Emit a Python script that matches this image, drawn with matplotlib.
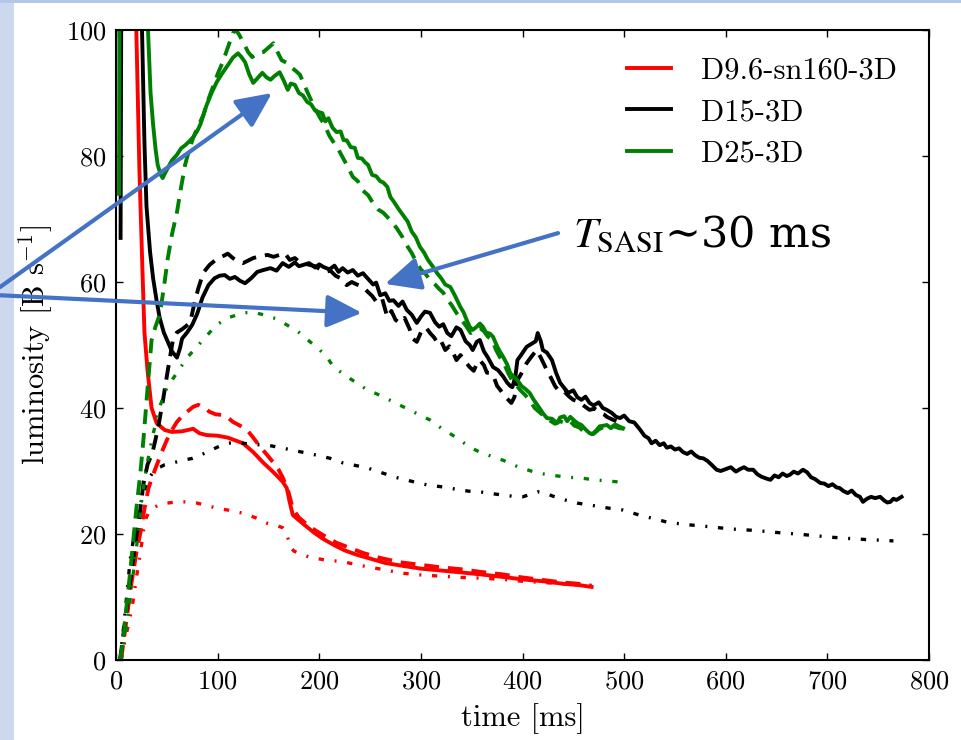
import numpy as np
import matplotlib
matplotlib.use("Agg")
import matplotlib.pyplot as plt
from matplotlib.patches import Rectangle

plt.rcParams["font.family"] = "serif"
plt.rcParams["font.serif"] = ["cmr10"]
plt.rcParams["mathtext.fontset"] = "cm"
plt.rcParams["axes.formatter.use_mathtext"] = True
plt.rcParams["axes.unicode_minus"] = False

# luminosity curves, (time [ms], luminosity [B/s])
d96_solid = [(5, 130), (9, 220), (13, 200), (17, 130), (20, 100), (23, 78), (26, 62), (28, 52),
             (31, 46), (35, 40), (40, 37.6), (48, 36.5), (55, 36.2), (65, 36.3), (76, 36.7),
             (82, 36.0), (89, 35.7), (100, 35.6), (110, 35.3), (125, 34.4), (135, 33.0),
             (145, 31.3), (155, 29.8), (164, 28.3), (168, 27.3), (171, 25.0), (174, 23.0),
             (185, 21.5), (195, 20.2), (204, 19.2), (215, 18.2), (225, 17.4), (237, 16.7),
             (250, 16.1), (265, 15.4), (280, 15.0), (300, 14.5), (320, 14.2), (340, 13.9),
             (358, 13.6), (380, 13.2), (400, 12.8), (420, 12.5), (440, 12.1), (455, 11.9), (468, 11.6)]
d96_dashed = [(5, 0), (10, 6), (15, 12), (20, 17), (24, 20.2), (28, 24), (32, 27.3), (36, 29.2),
              (40, 30.9), (45, 33), (50, 34.9), (55, 36.5), (60, 37.8), (65, 38.7), (70, 39.4),
              (76, 40.2), (81, 40.5), (87, 40.0), (92, 39.4), (98, 39.0), (104, 38.9), (110, 38.5),
              (115, 37.8), (122, 37.2), (129, 36.5), (135, 35.3), (142, 33.8), (149, 32.5),
              (155, 31.3), (160, 30.2), (164, 29.0), (167, 27.8), (170, 26.5), (174, 24.0),
              (180, 22.6), (191, 21.1), (204, 19.8), (217, 18.6), (230, 17.8), (243, 17.0),
              (260, 16.2), (280, 15.5), (300, 15.1), (320, 14.7), (340, 14.4), (358, 14.0),
              (380, 13.6), (400, 13.1), (420, 12.7), (440, 12.3), (455, 12.1), (468, 11.8)]
d96_dashdot = [(5, 0), (10, 4), (16, 8.4), (20, 13), (24, 17), (27, 20.5), (30, 22.7), (33, 23.6),
               (36, 24.1), (42, 24.6), (50, 24.9), (60, 25.1), (70, 25.1), (80, 24.9), (90, 24.5),
               (99, 24.1), (110, 23.8), (125, 23.3), (137, 22.6), (149, 21.7), (157, 21.4),
               (164, 21.0), (168, 20.2), (171, 18.0), (175, 17.3), (182, 16.8), (191, 16.3),
               (205, 15.9), (223, 15.6), (247, 14.8), (265, 14.3), (280, 13.8), (300, 13.5),
               (320, 13.3), (340, 13.1), (358, 13.0), (380, 12.8), (400, 12.5), (420, 12.3),
               (440, 12.1), (455, 11.9), (468, 11.7)]

d15_solid = [(4.5, 67), (6, 150), (9, 260), (13, 300), (18, 220), (22, 140), (25.6, 100), (28, 82),
             (30, 72), (33.5, 64.8), (36.5, 60.6), (40, 57), (43, 54.3), (47, 52), (51, 50.5),
             (55, 49), (60, 48), (63, 49.5), (65, 51), (70, 52), (75, 53.2), (80, 55), (85, 57.5),
             (91, 59.5), (97, 60.6), (102, 61), (107, 61.1), (112, 60.5), (117, 60.8), (122, 60.2),
             (127, 59.8), (133, 60.6), (139, 61.6), (145, 61.9), (152, 62.2), (158, 61.8),
             (164, 63), (170, 62.4), (176, 63.1), (180, 62.5), (184, 62.7), (190, 63.0),
             (196, 62.3), (200, 62.8), (204, 62.4), (210, 62.0), (215, 62.6), (219, 61.6),
             (223, 62.2), (228, 61.5), (233, 61.9), (238, 61.0), (243, 61.4), (248, 60.5),
             (253, 59.6), (256, 59.9), (260, 57.9), (265, 58.2), (269, 57.0), (273, 57.1),
             (278, 56.2), (282, 56.9), (286, 55.6), (291, 54.8), (296, 53.5), (300, 54.5),
             (304, 55.3), (309, 55.1), (314, 53.6), (318, 52.9), (322, 53.3), (326, 51.9),
             (330, 51.4), (335, 52.8), (339, 52.4), (344, 50.6), (348, 50.0), (351, 49.2),
             (355, 50.5), (358, 50.8), (362, 49.0), (366, 48.0), (371, 46.5), (376, 46.0),
             (381, 45.0), (385, 44.0), (388, 43.5), (390, 43.3), (393, 45.0), (395, 47.6),
             (399, 48.5), (404, 49.7), (409, 50.2), (413, 50.6), (415, 51.9), (418, 50.6),
             (420, 49.2), (424, 48.8), (429, 47.6), (433, 45.6), (437, 44.0), (441, 43.2),
             (445, 42.4), (450, 42.8), (454, 41.7), (458, 41.3), (462, 41.8), (466, 40.8),
             (470, 40.4), (475, 40.9), (479, 40.0), (483, 39.7), (488, 39.2), (492, 38.6),
             (496, 38.4), (500, 38.8), (505, 37.9), (510, 37.7), (516, 36.5), (520, 35.6),
             (524, 35.2), (527, 34.4), (531, 34.8), (535, 34.1), (539, 34.4), (542, 33.7),
             (546, 33.9), (550, 33.4), (554, 33.6), (558, 33.0), (562, 32.7), (566, 33.1),
             (570, 32.5), (574, 32.1), (578, 32.0), (582, 31.6), (586, 31.0), (591, 30.2),
             (595, 30.0), (600, 30.3), (605, 30.6), (610, 29.9), (614, 30.3), (618, 30.6),
             (622, 30.2), (627, 30.2), (631, 29.5), (635, 29.1), (640, 28.8), (644, 28.6),
             (648, 29.3), (652, 29.0), (656, 29.6), (660, 29.2), (663, 29.4), (667, 29.9),
             (671, 29.6), (676, 30.2), (680, 29.8), (684, 29.0), (688, 28.7), (693, 28.1),
             (697, 28.0), (701, 27.6), (705, 27.9), (709, 27.4), (712, 27.3), (716, 26.8),
             (720, 26.5), (724, 26.9), (728, 26.2), (732, 25.9), (735, 25.1), (739, 25.6),
             (743, 25.9), (747, 25.7), (752, 25.9), (756, 25.3), (759, 25.0), (762, 25.1),
             (765, 25.6), (768, 25.4), (771, 25.7), (773, 25.9)]
d15_dashed = [(4, 0), (8, 5), (12, 10), (16, 15), (20, 19.5), (24, 24), (27, 28), (31, 31),
              (36, 33), (41, 36.5), (46, 41), (51, 46), (56, 50.8), (60, 52), (65, 52.5),
              (69, 53), (73, 53.6), (77, 56.5), (81, 59), (86, 61.5), (92, 62.7), (98, 63.5),
              (104, 64), (110, 64.5), (115, 63.8), (120, 63.3), (125, 63), (130, 63.4),
              (135, 63.8), (142, 64.1), (149, 64.3), (155, 64.0), (161, 64.3), (166, 64.6),
              (171, 63.5), (176, 63.8), (181, 63.1), (186, 62.9), (191, 62.7), (196, 62.5),
              (201, 62.0), (206, 61.6), (211, 61.8), (216, 61.0), (221, 60.6), (227, 59.5),
              (232, 60.0), (237, 59.6), (243, 59.2), (248, 58.4), (252, 57.8), (257, 56.7),
              (262, 57.3), (267, 54.4), (271, 55.4), (275, 54.0), (279, 53.5), (284, 54.3),
              (289, 52.5), (292, 51.0), (296, 50.5), (300, 52.0), (305, 52.8), (309, 51.9),
              (313, 51.2), (317, 50.2), (320, 50.6), (324, 49.2), (328, 49.8), (332, 48.7),
              (335, 47.6), (339, 48.4), (344, 47.3), (348, 46.5), (352, 45.9), (355, 47.0),
              (358, 47.6), (362, 46.8), (365, 45.6), (368, 45.6), (372, 44.8), (375, 43.5),
              (378, 42.9), (382, 42.0), (386, 41.3), (389, 40.8), (392, 41.7), (395, 44.4),
              (399, 45.5), (404, 47.1), (409, 48.2), (414, 49.2), (418, 48.0), (421, 47.0),
              (424, 46.0), (428, 44.8), (432, 43.5), (437, 42.4), (441, 42.6), (446, 41.8),
              (450, 41.3), (455, 41.0), (460, 40.4), (466, 39.7), (471, 39.9), (476, 39.3),
              (480, 39.0), (483, 38.6), (488, 38.2), (494, 37.8)]
d15_dashdot = [(4, 0), (8, 6), (11, 11), (14, 16), (18, 20), (22, 23.5), (27, 26.5), (31, 28.5),
               (36, 29.7), (42, 30.5), (48, 31), (56, 31.3), (66, 31.7), (75, 32.0), (83, 32.5),
               (92, 33.2), (100, 33.8), (109, 34.4), (117, 34.5), (125, 34.4), (137, 34.2),
               (149, 34.1), (162, 33.7), (174, 33.3), (186, 32.9), (198, 32.5), (211, 32.0),
               (223, 31.3), (235, 30.9), (247, 30.5), (260, 29.8), (275, 29.0), (290, 28.4),
               (306, 27.8), (320, 27.5), (335, 27.1), (347, 26.8), (358, 26.7), (370, 26.4),
               (380, 26.2), (390, 26.0), (400, 25.9), (408, 26.3), (415, 26.7), (422, 26.5),
               (430, 26.0), (442, 25.4), (454, 24.9), (470, 24.5), (485, 24.1), (499, 23.8),
               (515, 23.0), (530, 22.4), (542, 21.9), (560, 21.5), (575, 21.3), (587, 21.1),
               (605, 20.8), (625, 20.6), (640, 20.4), (653, 20.2), (670, 20.0), (690, 19.7),
               (703, 19.5), (720, 19.3), (740, 19.1), (755, 19.0), (765, 18.9)]

d25_solid = [(3, 74), (4, 150), (7, 260), (12, 300), (18, 260), (24, 180), (28, 130), (31.5, 100),
             (34, 90), (36.5, 85), (39, 81), (41, 78.6), (44, 77), (46, 76.5), (48, 77.2), (51, 78.1),
             (55, 79.3), (60, 80.2), (64, 81.2), (68, 81.7), (72, 82.3), (76, 83), (80, 84), (83, 85),
             (86, 86.5), (89, 88), (94, 90), (99, 91.7), (104, 93), (110, 94.4), (115, 95.6),
             (120, 96.3), (123, 95.8), (127, 94.9), (131, 93), (135, 91.6), (139, 92.3), (144, 93.2),
             (148, 92.5), (152, 92.1), (156, 92.7), (161, 93.3), (165, 92), (169, 90.5), (172, 91.5),
             (176, 91.3), (180, 90), (184, 89.6), (188, 88.6), (192, 88.2), (196, 87.2), (199, 87),
             (203, 86.8), (206, 85.5), (209, 86.0), (213, 84.5), (217, 83.8), (221, 83.9),
             (224, 82.5), (227, 82.5), (231, 81.4), (235, 81.3), (238, 79.7), (242, 79.6),
             (245, 79.0), (248, 78.6), (252, 77.0), (256, 76.8), (260, 76.0), (263, 75.8),
             (267, 75.1), (270, 73.5), (274, 72.6), (278, 71.6), (283, 70.5), (287, 69.6),
             (291, 68.0), (295, 67.1), (299, 65.6), (303, 64.7), (307, 63.5), (312, 62.4),
             (316, 61.4), (320, 60.6), (324, 59.6), (329, 59.2), (333, 58.0), (336, 57.0),
             (339, 56.0), (342, 55.2), (345, 54.0), (348, 52.9), (351, 52.4), (355, 52.9),
             (358, 53.4), (361, 52.9), (364, 52.0), (368, 51.8), (371, 51.3), (375, 49.8),
             (378, 48.9), (381, 48.1), (385, 46.9), (388, 45.5), (392, 44.9), (395, 44.4),
             (399, 43.5), (403, 43.0), (407, 42.4), (411, 41.3), (415, 40.4), (420, 39.2),
             (424, 38.4), (429, 38.3), (434, 37.6), (437, 38.5), (441, 38.7), (444, 37.9),
             (447, 38.6), (451, 38.0), (454, 37.6), (458, 37.3), (462, 36.6), (466, 36.0),
             (469, 35.9), (473, 36.5), (476, 37.1), (480, 37.2), (483, 37.3), (487, 36.8),
             (491, 37.4), (496, 37.0), (499, 36.8)]
d25_dashed = [(4, 0), (7, 3), (10, 8), (14, 14), (17, 19), (20, 24), (24, 29.7), (27, 35), (31, 43),
              (35, 50.8), (39, 53), (43, 54.8), (47, 59), (51, 63.8), (55, 67.5), (60, 71.1),
              (64, 75), (68, 78.6), (72, 81), (76, 82.9), (81, 84.8), (86, 86.5), (90, 88.6),
              (95, 90.8), (100, 93), (105, 94.9), (110, 97.2), (115, 99.5), (118, 100),
              (121, 99.3), (125, 98.1), (130, 96.5), (134, 95.7), (139, 96.3), (145, 96.5),
              (150, 97.2), (155, 97.9), (159, 96.5), (163, 95.2), (168, 94.8), (173, 94.0),
              (177, 93.5), (181, 92.9), (186, 91), (191, 89.2), (196, 87.5), (201, 86),
              (205, 85), (210, 83.2), (214, 82.2), (219, 81.0), (223, 79.8), (228, 78.3),
              (233, 76.7), (238, 76.0), (243, 74.5), (248, 73.8), (253, 72.5), (258, 71.5),
              (263, 71.0), (270, 69.8), (276, 68.6), (282, 67.1), (287, 65.6), (291, 64.6),
              (296, 63.0), (300, 62.0), (305, 61.2), (309, 60.3), (314, 59.6), (318, 58.9),
              (322, 58.3), (326, 57.2), (330, 56.4), (335, 55.1), (340, 54.0), (345, 52.9),
              (349, 51.9), (353, 52.3), (358, 52.7), (362, 52.2), (366, 51.3), (370, 50.9),
              (374, 49.2), (378, 48.0), (382, 47.0), (386, 45.5), (390, 44.3), (394, 43.6),
              (398, 42.8), (403, 42.0), (408, 41.0), (412, 40.0), (417, 39.3), (422, 38.6),
              (427, 38.0), (432, 37.5), (437, 37.9), (442, 37.6), (447, 37.9), (451, 37.2),
              (456, 36.9), (460, 36.3), (465, 35.8), (470, 35.9), (475, 36.6), (480, 37.0),
              (485, 36.9), (490, 37.1), (495, 36.8), (500, 36.7)]
d25_dashdot = [(5, 0), (8, 3), (11, 5.9), (16, 12.5), (21, 19), (25, 25), (30, 30.6), (36, 35.5),
               (43, 40.2), (50, 43.2), (60, 45.6), (70, 48.0), (80, 49.8), (90, 51.6), (99, 53.2),
               (110, 54.3), (125, 55.1), (135, 55.2), (145, 54.8), (157, 54.2), (168, 53.2),
               (180, 52.0), (191, 50.5), (200, 49.3), (208, 48.0), (214, 46.5), (230, 44.7),
               (247, 42.9), (260, 42.0), (280, 40.4), (295, 39.2), (309, 38.1), (320, 36.8),
               (335, 35.3), (348, 33.8), (358, 33.0), (370, 32.3), (381, 31.7), (395, 30.7),
               (414, 29.7), (430, 29.3), (445, 29.0), (457, 28.9), (470, 28.6), (485, 28.4),
               (499, 28.2)]

models = ["D9.6-sn160-3D", "D15-3D", "D25-3D"]
colors = ["#ff0000", "#000000", "#008000"]
curves = [(d96_solid, d96_dashed, d96_dashdot),
          (d15_solid, d15_dashed, d15_dashdot),
          (d25_solid, d25_dashed, d25_dashdot)]

# arrow tips (time, luminosity) and tails (figure fraction)
arrow_tips = [(153.5, 90.0), (242.0, 55.1), (264.7, 59.7)]
arrow_tails = [(0.0, 0.612), (0.0, 0.601), (0.5807, 0.685)]
arrow_color = "#4472c4"

fig = plt.figure(figsize=(9.61, 7.40), dpi=100)
fig.patch.set_facecolor("white")
fig.add_artist(Rectangle((0, 0), 14 / 961, 1, transform=fig.transFigure,
                         facecolor="#cbd8ee", edgecolor="none", zorder=-5))
fig.add_artist(Rectangle((0, 1 - 3 / 740), 1, 3 / 740, transform=fig.transFigure,
                         facecolor="#b4c7e7", edgecolor="none", zorder=-5))

ax = fig.add_axes([116 / 961, 80 / 740, 813 / 961, 630 / 740])

for name, col, (sol, dsh, ddt) in zip(models, colors, curves):
    t, L = np.array(sol).T
    ax.plot(t, L, color=col, lw=2.8, label=name)
    t, L = np.array(dsh).T
    ax.plot(t, L, color=col, lw=2.8, dashes=(3.8, 2.3))
    t, L = np.array(ddt).T
    ax.plot(t, L, color=col, lw=2.4, dashes=(1.6, 3.2, 0.6, 3.2))

ax.set_xlim(0, 800)
ax.set_ylim(0, 100)
ax.set_xticks(np.arange(0, 801, 100))
ax.set_yticks(np.arange(0, 101, 20))
ax.tick_params(direction="in", top=True, right=True, length=5, width=1,
               labelsize=19, pad=7)
for sp in ax.spines.values():
    sp.set_linewidth(1.5)
ax.set_xlabel("time [ms]", fontsize=22, labelpad=7)
ax.set_ylabel(r"luminosity [B s$^{-1}$]", fontsize=22, labelpad=8)

ax.legend(loc="upper right", frameon=False, fontsize=22, handlelength=1.45,
          handletextpad=1.0, labelspacing=0.45, bbox_to_anchor=(0.995, 1.0))

for tip, tail in zip(arrow_tips, arrow_tails):
    ax.annotate("", xy=tip, xycoords="data", xytext=tail, textcoords="figure fraction",
                arrowprops=dict(arrowstyle="-|>,head_length=0.9,head_width=0.42",
                                color=arrow_color, lw=3, shrinkA=0, shrinkB=0,
                                mutation_scale=24),
                annotation_clip=False, zorder=10)

fig.text(573 / 961, 1 - 247 / 740, r"$T_{\mathrm{SASI}}$" + "\u223c" + "30 ms",
         fontsize=31, fontfamily="DejaVu Serif", math_fontfamily="stix",
         ha="left", va="baseline")

fig.savefig("out.png", dpi=100)
